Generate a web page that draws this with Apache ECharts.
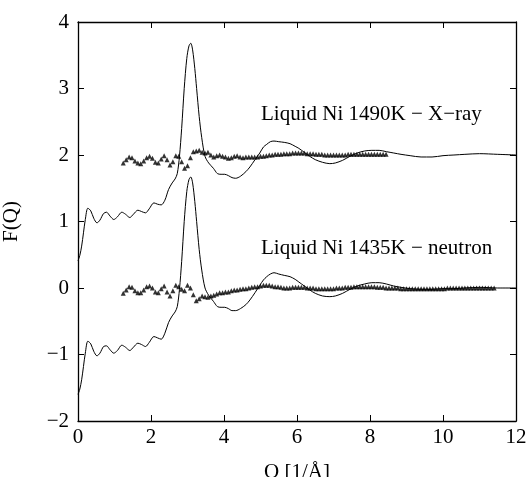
<!DOCTYPE html>
<html>
<head>
<meta charset="utf-8">
<script src="https://cdn.jsdelivr.net/npm/echarts@6/dist/echarts.min.js"></script>
<style>html,body{margin:0;padding:0;background:#fff;}#c{width:528px;height:477px;}</style>
</head>
<body>
<div id="c"></div>
<script>
// Model curves (solid lines): Q grid and F(Q) values
const lineQ = [
  0.00,0.05,0.10,0.15,0.20,0.27,0.35,0.43,0.52,0.60,
  0.70,0.78,0.88,0.98,1.08,1.20,1.30,1.42,1.52,1.64,
  1.74,1.85,1.95,2.08,2.18,2.28,2.38,2.48,2.58,2.66,
  2.72,2.78,2.84,2.91,2.98,3.04,3.09,3.14,3.20,3.25,
  3.32,3.39,3.48,3.58,3.71,3.82,3.92,4.02,4.12,4.22,
  4.32,4.45,4.60,4.71,4.85,4.98,5.08,5.17,5.27,5.37,
  5.50,5.65,5.81,5.95,6.05,6.20,6.35,6.50,6.70,6.90,
  7.05,7.25,7.45,7.65,7.85,8.05,8.25,8.45,8.65,8.85,
  9.10,9.40,9.70,10.00,10.30,10.60,11.00,11.50,12.00
];
const xrayLine = [
  0.41,0.49,0.63,0.83,1.03,1.20,1.16,1.05,0.98,1.02,
  1.12,1.14,1.08,1.03,1.07,1.14,1.11,1.06,1.11,1.17,
  1.15,1.13,1.19,1.28,1.26,1.25,1.32,1.48,1.58,1.64,
  1.72,1.98,2.40,3.00,3.45,3.64,3.68,3.58,3.30,3.00,
  2.58,2.26,1.98,1.88,1.80,1.72,1.71,1.71,1.69,1.66,
  1.65,1.68,1.75,1.82,1.93,2.03,2.12,2.16,2.20,2.21,
  2.20,2.19,2.17,2.13,2.10,2.04,1.98,1.93,1.89,1.87,
  1.88,1.92,1.98,2.03,2.06,2.07,2.07,2.05,2.03,2.01,
  1.99,1.97,1.97,1.99,2.00,2.01,2.02,2.01,2.00
];
const neutronLine = [
  -1.60,-1.52,-1.38,-1.18,-0.98,-0.80,-0.84,-0.95,-1.02,-0.98,
  -0.88,-0.87,-0.93,-0.98,-0.94,-0.86,-0.89,-0.94,-0.89,-0.83,
  -0.85,-0.88,-0.82,-0.73,-0.75,-0.77,-0.68,-0.52,-0.42,-0.36,
  -0.28,-0.02,0.40,1.00,1.45,1.63,1.67,1.58,1.30,1.00,
  0.58,0.27,0.00,-0.11,-0.20,-0.28,-0.29,-0.29,-0.31,-0.34,
  -0.34,-0.31,-0.25,-0.18,-0.07,0.04,0.12,0.17,0.21,0.23,
  0.21,0.19,0.17,0.13,0.09,0.03,-0.03,-0.08,-0.12,-0.13,
  -0.12,-0.08,-0.02,0.03,0.06,0.08,0.08,0.06,0.03,0.01,
  -0.01,-0.02,-0.02,-0.01,-0.01,0.00,0.01,0.00,0.00
];

// Experimental data (triangles): Q grid and F(Q) values
const dataQ = [
  1.24,1.32,1.40,1.48,1.56,1.64,1.72,1.80,1.88,1.96,
  2.04,2.12,2.20,2.28,2.36,2.44,2.52,2.60,2.68,2.76,
  2.84,2.92,3.00,3.08,3.16,3.24,3.32,3.40,3.48,3.56,
  3.64,3.72,3.80,3.88,3.96,4.04,4.12,4.20,4.28,4.36,
  4.44,4.52,4.60,4.68,4.76,4.84,4.92,5.00,5.08,5.16,
  5.24,5.32,5.40,5.48,5.56,5.64,5.72,5.80,5.88,5.96,
  6.04,6.12,6.20,6.28,6.36,6.44,6.52,6.60,6.68,6.76,
  6.84,6.92,7.00,7.08,7.16,7.24,7.32,7.40,7.48,7.56,
  7.64,7.72,7.80,7.88,7.96,8.04,8.12,8.20,8.28,8.36,
  8.44,8.52,8.60,8.68,8.76,8.84,8.92,9.00,9.08,9.16,
  9.24,9.32,9.40,9.48,9.56,9.64,9.72,9.80,9.88,9.96,
  10.04,10.12,10.20,10.28,10.36,10.44,10.52,10.60,10.68,10.76,
  10.84,10.92,11.00,11.08,11.16,11.24,11.32,11.40
];
const xrayData = [
  1.88,1.93,1.97,1.96,1.91,1.88,1.87,1.91,1.96,1.98,
  1.95,1.89,1.88,1.94,1.99,1.93,1.85,1.90,1.99,1.98,
  1.90,1.80,1.84,1.96,2.05,2.06,2.07,2.04,2.03,2.04,
  2.00,1.97,1.99,2.00,1.98,1.97,1.95,1.96,1.98,1.99,
  1.97,1.96,1.97,1.97,1.97,1.97,1.97,1.98,1.98,1.99,
  2.00,2.00,2.01,2.01,2.01,2.02,2.02,2.02,2.03,2.03,
  2.03,2.03,2.03,2.02,2.02,2.02,2.01,2.01,2.01,2.00,
  2.00,2.00,2.00,2.00,2.00,2.00,2.00,2.01,2.01,2.01,
  2.01,2.01,2.01,2.01,2.01,2.01,2.01,2.01,2.01,2.01,
  2.01
];
const neutronData = [
  -0.08,-0.03,0.02,0.01,-0.04,-0.07,-0.07,-0.03,0.02,0.03,
  0.00,-0.06,-0.07,-0.01,0.03,-0.06,-0.12,-0.04,0.04,0.02,
  -0.02,-0.04,0.04,0.00,-0.10,-0.19,-0.16,-0.12,-0.13,-0.14,
  -0.12,-0.11,-0.09,-0.07,-0.07,-0.06,-0.06,-0.04,-0.03,-0.03,
  -0.02,-0.01,-0.01,0.00,0.01,0.02,0.02,0.03,0.04,0.04,
  0.04,0.03,0.02,0.02,0.01,0.00,0.00,0.00,0.01,0.01,
  0.01,0.01,0.01,0.00,0.00,0.00,-0.01,-0.01,-0.01,-0.01,
  -0.01,-0.01,-0.01,0.00,0.00,0.00,0.01,0.01,0.01,0.02,
  0.02,0.02,0.02,0.02,0.02,0.02,0.02,0.01,0.01,0.01,
  0.00,0.00,0.00,0.00,0.00,-0.01,-0.01,-0.01,-0.01,-0.01,
  -0.01,-0.01,-0.01,-0.01,-0.01,-0.01,-0.01,-0.01,-0.01,-0.01,
  -0.01,0.00,0.00,0.00,0.00,0.00,0.00,0.00,0.00,0.00,
  0.00,0.00,0.00,0.00,0.00,0.00,0.00,0.00
];

const xTicks = [0, 2, 4, 6, 8, 10, 12];
const yTicks = [-2, -1, 0, 1, 2, 3, 4];
const labelXray = 'Liquid Ni 1490K \u2212 X\u2212ray';
const labelNeutron = 'Liquid Ni 1435K \u2212 neutron';
const xName = 'Q [1/\u00C5]';
const yName = 'F(Q)';

function zip(xs, ys) { return ys.map((v, i) => [xs[i], v]); }

const FONT = 'Liberation Serif, Times New Roman, serif';
const chart = echarts.init(document.getElementById('c'), null, {renderer: 'canvas'});

const axisCommon = {
  axisLine: {show: true, onZero: false, lineStyle: {color: '#000', width: 1.3}},
  axisTick: {show: true, inside: true, length: 6, lineStyle: {color: '#000', width: 1}},
  splitLine: {show: false}
};

chart.setOption({
  animation: false,
  backgroundColor: '#fff',
  grid: {left: 78, right: 12, top: 22, bottom: 56, containLabel: false, outerBoundsMode: 'none'},
  xAxis: [
    Object.assign({
      type: 'value', position: 'bottom', min: xTicks[0], max: xTicks[xTicks.length - 1], interval: 2,
      name: xName, nameLocation: 'middle', nameGap: 41,
      nameTextStyle: {fontFamily: FONT, fontSize: 21, color: '#000'},
      axisLabel: {fontFamily: FONT, fontSize: 21, color: '#000', margin: 6}
    }, axisCommon),
    Object.assign({
      type: 'value', position: 'top', min: xTicks[0], max: xTicks[xTicks.length - 1], interval: 2,
      axisLabel: {show: false}
    }, axisCommon)
  ],
  yAxis: [
    Object.assign({
      type: 'value', position: 'left', min: yTicks[0], max: yTicks[yTicks.length - 1], interval: 1,
      name: yName, nameLocation: 'middle', nameGap: 56, nameRotate: 90,
      nameTextStyle: {fontFamily: FONT, fontSize: 21, color: '#000'},
      axisLabel: {fontFamily: FONT, fontSize: 21, color: '#000', margin: 9,
        formatter: v => String(v).replace('-', '\u2212')}
    }, axisCommon),
    Object.assign({
      type: 'value', position: 'right', min: yTicks[0], max: yTicks[yTicks.length - 1], interval: 1,
      axisLabel: {show: false}
    }, axisCommon)
  ],
  series: [
    {type: 'line', data: zip(lineQ, xrayLine), showSymbol: false, smooth: 0.3,
      lineStyle: {color: '#000', width: 1}, xAxisIndex: 0, yAxisIndex: 0, z: 3},
    {type: 'line', data: zip(lineQ, neutronLine), showSymbol: false, smooth: 0.3,
      lineStyle: {color: '#000', width: 1}, xAxisIndex: 0, yAxisIndex: 0, z: 3},
    {type: 'scatter', data: zip(dataQ, xrayData), symbol: 'triangle', symbolSize: 5,
      itemStyle: {color: '#000'}, xAxisIndex: 0, yAxisIndex: 0, z: 4},
    {type: 'scatter', data: zip(dataQ, neutronData), symbol: 'triangle', symbolSize: 5,
      itemStyle: {color: '#000'}, xAxisIndex: 0, yAxisIndex: 0, z: 4}
  ],
  graphic: [
    {type: 'text', x: 261, y: 114, style: {text: labelXray, fontFamily: FONT, fontSize: 21,
      fill: '#000', verticalAlign: 'middle', align: 'left'}},
    {type: 'text', x: 261, y: 248, style: {text: labelNeutron, fontFamily: FONT, fontSize: 21,
      fill: '#000', verticalAlign: 'middle', align: 'left'}}
  ]
});
</script>
</body>
</html>
